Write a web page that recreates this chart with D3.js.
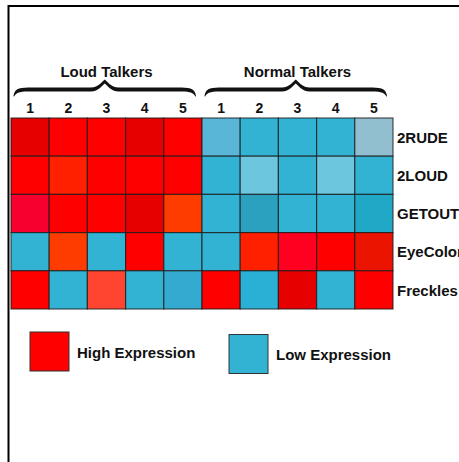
<!DOCTYPE html>
<html>
<head>
<meta charset="utf-8">
<script src="https://cdn.jsdelivr.net/npm/d3@7"></script>
<style>
  html, body { margin: 0; padding: 0; background: #fff; }
  svg { display: block; }
  text { font-family: "Liberation Sans", Arial, sans-serif; font-weight: bold; fill: #111; }
</style>
</head>
<body>
<svg id="chart" width="459" height="462"></svg>
<script>
// ---- data ----
const groups = ["Loud Talkers", "Normal Talkers"];
const subjects = ["1", "2", "3", "4", "5"];
const genes = ["2RUDE", "2LOUD", "GETOUT", "EyeColor", "Freckles"];
// expression level code per gene (rows) x sample (10 columns: Loud 1-5, Normal 1-5)
const levels = [
  ["Hd", "H", "H", "Hd", "H",   "Lm", "L", "L", "L", "Lg"],
  ["H", "Ho", "H", "H", "H",    "L", "Ll", "L", "Ll", "L"],
  ["Hp", "H", "H", "Hd", "Ho2", "L", "Ld", "L", "L", "Ld2"],
  ["L", "Ho2", "L", "H", "L",   "L", "Ho", "Hp2", "H", "Hd2"],
  ["H", "L", "Hs", "L", "Lb",   "H", "Lc", "Hd", "L", "H"]
];
const levelCodes  = ["H", "Hd", "Ho", "Ho2", "Hp", "Hp2", "Hs", "Hd2", "L", "Ll", "Lm", "Lg", "Ld", "Ld2", "Lb", "Lc"];
const levelColors = ["#ff0000", "#e60000", "#ff2000", "#ff3c00", "#f70030", "#ff0020", "#ff4530", "#ea1400",
                     "#33b3d3", "#6cc6de", "#59b6d7", "#91bfd0", "#2ba1bf", "#22a8c7", "#35aad0", "#2ab0d4"];
const legendLabels = ["High Expression", "Low Expression"];
const legendCodes = ["H", "L"];

// ---- drawing ----
const svg = d3.select("#chart");
const color = d3.scaleOrdinal().domain(levelCodes).range(levelColors);

const columns = [];
groups.forEach((g, gi) => subjects.forEach(s => columns.push(gi + "-" + s)));

const x = d3.scaleBand().domain(columns).range([11, 393]).padding(0);
const y = d3.scaleBand().domain(genes).range([118, 309]).padding(0);
const gx = d3.scaleBand().domain(groups).range([11, 393]).padding(0);

// frame
svg.append("line").attr("x1", 8.5).attr("x2", 459).attr("y1", 6).attr("y2", 6)
  .attr("stroke", "#000").attr("stroke-width", 2);
svg.append("line").attr("x1", 8.5).attr("x2", 8.5).attr("y1", 5).attr("y2", 462)
  .attr("stroke", "#000").attr("stroke-width", 2);

// cells
const cells = [];
genes.forEach((g, ri) => columns.forEach((c, ci) => cells.push({gene: g, col: c, code: levels[ri][ci]})));
svg.append("g").selectAll("rect").data(cells).join("rect")
  .attr("x", d => x(d.col))
  .attr("y", d => y(d.gene))
  .attr("width", x.bandwidth())
  .attr("height", y.bandwidth())
  .attr("fill", d => color(d.code))
  .attr("stroke", "#1a1a1a")
  .attr("stroke-opacity", 0.75)
  .attr("stroke-width", 1.2);

// row labels
svg.append("g").selectAll("text").data(genes).join("text")
  .attr("x", 397)
  .attr("y", d => y(d) + y.bandwidth() / 2)
  .attr("dy", "0.38em")
  .attr("font-size", 15)
  .text(d => d);

// column labels
svg.append("g").selectAll("text").data(columns).join("text")
  .attr("x", d => x(d) + x.bandwidth() / 2)
  .attr("y", 113)
  .attr("text-anchor", "middle")
  .attr("font-size", 14)
  .text(d => d.split("-")[1]);

// group labels
svg.append("g").selectAll("text").data(groups).join("text")
  .attr("x", d => gx(d) + gx.bandwidth() / 2)
  .attr("y", 77)
  .attr("text-anchor", "middle")
  .attr("font-size", 15)
  .text(d => d);

// braces
function brace(xa, xb, y0, ye, yp, h) {
  const xm = (xa + xb) / 2;
  const p = d3.path();
  p.moveTo(xa, ye);
  p.bezierCurveTo(xa + 1, y0 - h, xa + 8, y0 - h, xa + 18, y0 - h);
  p.lineTo(xm - 14, y0 - h);
  p.bezierCurveTo(xm - 6, y0 - h, xm - 2, yp + 1, xm, yp);
  p.bezierCurveTo(xm + 2, yp + 1, xm + 6, y0 - h, xm + 14, y0 - h);
  p.lineTo(xb - 18, y0 - h);
  p.bezierCurveTo(xb - 8, y0 - h, xb - 1, y0 - h, xb, ye);
  p.lineTo(xb - 0.5, ye + 0.8);
  p.bezierCurveTo(xb - 3, y0 + h, xb - 8, y0 + h, xb - 18, y0 + h);
  p.lineTo(xm + 14, y0 + h);
  p.bezierCurveTo(xm + 6, y0 + h, xm + 2, yp + 5, xm, yp + 4);
  p.bezierCurveTo(xm - 2, yp + 5, xm - 6, y0 + h, xm - 14, y0 + h);
  p.lineTo(xa + 18, y0 + h);
  p.bezierCurveTo(xa + 8, y0 + h, xa + 3, y0 + h, xa + 0.5, ye + 0.8);
  p.closePath();
  return p.toString();
}
svg.append("g").selectAll("path").data(groups).join("path")
  .attr("d", d => brace(gx(d) + 2.5, gx(d) + gx.bandwidth() - 6, 89.5, 96, 79.5, 2))
  .attr("fill", "#111");

// legend
const lx = d3.scaleOrdinal().domain(legendLabels).range([30, 229]);
const ly = d3.scaleOrdinal().domain(legendLabels).range([332, 334.5]);
const lg = svg.append("g").selectAll("g").data(legendLabels).join("g");
lg.append("rect")
  .attr("x", d => lx(d))
  .attr("y", d => ly(d))
  .attr("width", 39)
  .attr("height", 39)
  .attr("fill", (d, i) => color(legendCodes[i]))
  .attr("stroke", "#333")
  .attr("stroke-width", 1);
lg.append("text")
  .attr("x", d => lx(d) + 47)
  .attr("y", d => ly(d) + 25.5)
  .attr("font-size", 15)
  .text(d => d);
</script>
</body>
</html>
